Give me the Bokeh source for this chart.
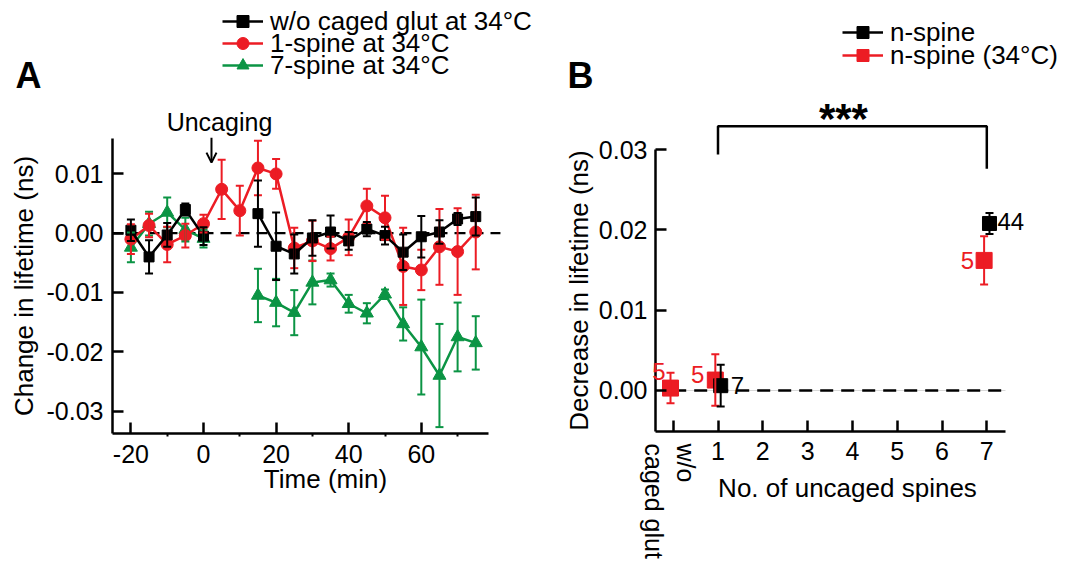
import math
import numpy as np
from bokeh.plotting import figure
from bokeh.layouts import row
from bokeh.core.properties import value
from bokeh.models import (ColumnDataSource, Whisker, TeeHead, Legend, LegendItem, Label, LabelSet,
                          FixedTicker, NumeralTickFormatter, Range1d, Arrow, OpenHead, LinearAxis)
from bokeh.embed import file_html
from bokeh.resources import INLINE

FONT = "Liberation Sans"
BLACK = "#000000"
RED = "#ec1c24"
GREEN = "#0b9444"
nan = float("nan")

# ---------------- Panel A data ----------------
time_min = [-20, -15, -10, -5, 0, 5, 10, 15, 20, 25, 30, 35, 40, 45, 50, 55, 60, 65, 70, 75]
ctrl_vals = [0.0005, -0.0040, -0.0003, 0.0040, -0.0005, nan, nan, 0.0033, -0.0022, -0.0035,
             -0.0008, 0.0002, -0.0013, 0.0007, -0.0004, -0.0032, -0.0006, 0.0002, 0.0024, 0.0028]
ctrl_err = [0.0018, 0.0028, 0.0020, 0.0010, 0.0015, nan, nan, 0.0056, 0.0057, 0.0033,
            0.0030, 0.0028, 0.0015, 0.0012, 0.0015, 0.0030, 0.0035, 0.0020, 0.0010, 0.0032]
one_vals = [-0.0010, 0.0013, -0.0019, -0.0004, 0.0016, 0.0074, 0.0038, 0.0110, 0.0100, -0.0025,
            -0.0013, -0.0026, -0.0007, 0.0046, 0.0026, -0.0056, -0.0062, -0.0023, -0.0031, 0.0002]
one_err = [0.0025, 0.0020, 0.0030, 0.0020, 0.0015, 0.0050, 0.0042, 0.0046, 0.0025, 0.0034,
           0.0034, 0.0020, 0.0030, 0.0029, 0.0037, 0.0065, 0.0034, 0.0064, 0.0073, 0.0063]
seven_vals = [-0.0024, 0.0016, 0.0035, 0.0006, -0.0009, nan, nan, -0.0105, -0.0117, -0.0134,
              -0.0083, -0.0079, -0.0119, -0.0135, -0.0103, -0.0153, -0.0192, -0.0240, -0.0175, -0.0185]
seven_err = [0.0025, 0.0020, 0.0025, 0.0020, 0.0015, nan, nan, 0.0045, 0.0040, 0.0038,
             0.0037, 0.0011, 0.0015, 0.0017, 0.0008, 0.0028, 0.0080, 0.0087, 0.0058, 0.0045]
labels_A = ["w/o caged glut at 34°C", "1-spine at 34°C", "7-spine at 34°C"]
ticks_Ax = [-20, 0, 20, 40, 60]
minor_Ax = [-10, 10, 30, 50, 70]
ticks_Ay = [-0.03, -0.02, -0.01, 0.0, 0.01]
uncaging_time = 2.2

# ---------------- Panel B data ----------------
black_x = [1, 7]
black_y = [0.0006, 0.0208]
black_err = [0.0026, 0.0013]
black_n = ["7", "44"]
red_x = [0, 1, 7]
red_y = [0.0003, 0.0013, 0.0162]
red_err = [0.0019, 0.0032, 0.0030]
red_n = ["5", "5", "5"]
labels_B = ["n-spine", "n-spine (34°C)"]
ticks_Bx = [0, 1, 2, 3, 4, 5, 6, 7]
ticks_By = [0.0, 0.01, 0.02, 0.03]
sig_pair = (1, 7)
sig_text = "***"

# ---------------- layout / style constants ----------------
BLACK_SHIFT = 0.06
RED_SHIFT = -0.06
A_XAXIS = (-25.07, 78.4)      # axis extent (time)
A_YAXIS = (-0.0338, 0.0159)   # axis extent (lifetime)
B_XAXIS = (-0.395, 7.417)
B_YAXIS = (-0.0051, 0.03)
H = 560
LEG_H = 31.5                  # height of one legend row (px)


def style_axis(ax, tick_standoff, label_standoff):
    ax.axis_line_width = 2.5
    ax.axis_line_color = BLACK
    ax.major_tick_line_width = 2.5
    ax.major_tick_line_color = BLACK
    ax.major_tick_in = 11
    ax.major_tick_out = 0
    ax.minor_tick_line_color = None
    ax.major_label_text_font = FONT
    ax.major_label_text_font_size = "25px"
    ax.major_label_text_color = BLACK
    ax.major_label_standoff = tick_standoff
    ax.axis_label_text_font = FONT
    ax.axis_label_text_font_size = "26px"
    ax.axis_label_text_font_style = "normal"
    ax.axis_label_text_color = BLACK
    ax.axis_label_standoff = label_standoff


def err_source(x, y, e):
    keep = [i for i in range(len(x)) if not math.isnan(y[i])]
    return ColumnDataSource(dict(
        x=[x[i] for i in keep], y=[y[i] for i in keep],
        lower=[y[i] - e[i] for i in keep], upper=[y[i] + e[i] for i in keep]))


def legend_row(p, label, renderers, x_px, center_px):
    leg = Legend(items=[LegendItem(label=label, renderers=renderers)],
                 location=(x_px, H - center_px - LEG_H / 2), orientation="vertical",
                 border_line_color=None, background_fill_alpha=0, padding=0, margin=0, spacing=0,
                 glyph_width=41, glyph_height=30, label_standoff=7, label_height=20,
                 label_text_font=FONT, label_text_font_size="26px", label_text_color=BLACK)
    p.add_layout(leg)


# ================= Panel A =================
pA = figure(width=562, height=H, x_range=Range1d(-55.923, 98.898), y_range=Range1d(-0.055194, 0.039241),
            output_backend="svg", toolbar_location=None, x_axis_location=None, y_axis_location=None,
            min_border=0)
pA.outline_line_color = None
pA.grid.visible = False
pA.background_fill_color = "white"

pA.line(x=[A_XAXIS[0], 81.8], y=[0, 0], line_color=BLACK, line_width=2.2, line_dash="11 7")

series_A = [
    (seven_vals, seven_err, GREEN, "triangle", 13),
    (one_vals, one_err, RED, "circle", 12),
    (ctrl_vals, ctrl_err, BLACK, "square", 10),
]
legend_rend = {}
for vals, errs, col, mk, sz in series_A:
    src = err_source(time_min, vals, errs)
    pA.add_layout(Whisker(source=src, base="x", upper="upper", lower="lower", line_color=col, line_width=2,
                          upper_head=TeeHead(size=8, line_color=col, line_width=2),
                          lower_head=TeeHead(size=8, line_color=col, line_width=2), level="glyph"))
    lr = pA.line(np.array(time_min, dtype=float), np.array(vals, dtype=float), line_color=col, line_width=2.5)
    sr = pA.scatter("x", "y", source=src, marker=mk, size=sz, fill_color=col, line_color=col)
    legend_rend[col] = [lr, sr]

legend_row(pA, labels_A[0], legend_rend[BLACK], 222, 21)
legend_row(pA, labels_A[1], legend_rend[RED], 222, 43)
legend_row(pA, labels_A[2], legend_rend[GREEN], 222, 65)

axA_x = LinearAxis(fixed_location=A_YAXIS[0],
                   ticker=FixedTicker(ticks=ticks_Ax, minor_ticks=minor_Ax),
                   formatter=NumeralTickFormatter(format="0"), bounds=A_XAXIS)
axA_y = LinearAxis(fixed_location=A_XAXIS[0], axis_label="Change in lifetime (ns)",
                   ticker=FixedTicker(ticks=ticks_Ay), formatter=NumeralTickFormatter(format="0.00"),
                   bounds=A_YAXIS)
pA.add_layout(axA_x, "below")
pA.add_layout(axA_y, "left")
style_axis(axA_x, 8, 0)
style_axis(axA_y, 9, 5)
axA_x.minor_tick_line_color = BLACK
axA_x.minor_tick_line_width = 2
axA_x.minor_tick_in = 0
axA_x.minor_tick_out = 3

pA.add_layout(Label(x=33.6, y=-0.0415, text="Time (min)", text_align="center", text_baseline="middle",
                    text_font=FONT, text_font_size="26px", text_color=BLACK))
pA.add_layout(Label(x=4.4, y=0.0187, text="Uncaging", text_align="center", text_baseline="middle",
                    text_font=FONT, text_font_size="25px", text_color=BLACK))
pA.add_layout(Arrow(x_start=uncaging_time, y_start=0.0161, x_end=uncaging_time, y_end=0.0119,
                    line_color=BLACK, line_width=2,
                    end=OpenHead(size=10, line_color=BLACK, line_width=2)))
pA.add_layout(Label(x=-48.2, y=0.0266, text="A", text_align="center", text_baseline="middle",
                    text_font=FONT, text_font_size="36px", text_font_style="bold", text_color=BLACK))

# ================= Panel B =================
pB = figure(width=518, height=H, x_range=Range1d(-2.4710, 9.0915), y_range=Range1d(-0.021171, 0.048568),
            output_backend="svg", toolbar_location=None, x_axis_location=None, y_axis_location=None,
            min_border=0)
pB.outline_line_color = None
pB.grid.visible = False
pB.background_fill_color = "white"

pB.line(x=[0, B_XAXIS[1]], y=[0, 0], line_color="#d8d8d8", line_width=1)
pB.line(x=[0, B_XAXIS[1]], y=[0, 0], line_color=BLACK, line_width=2.5, line_dash="13 8")

src_red = err_source([x + RED_SHIFT for x in red_x], red_y, red_err)
src_red.data["n"] = red_n
src_red.data["dx"] = [-5, -11, -10]
src_red.data["dy"] = [17, 6, 0]
src_black = err_source([x + BLACK_SHIFT for x in black_x], black_y, black_err)
src_black.data["n"] = black_n
src_black.data["dx"] = [10, 8]
src_black.data["dy"] = [0, 2]

for src, col in [(src_red, RED), (src_black, BLACK)]:
    pB.add_layout(Whisker(source=src, base="x", upper="upper", lower="lower", line_color=col, line_width=2,
                          upper_head=TeeHead(size=8, line_color=col, line_width=2),
                          lower_head=TeeHead(size=8, line_color=col, line_width=2), level="glyph"))

# legend-only line samples (a single NaN point draws nothing in the plot)
lr_red = pB.line(x=[nan], y=[nan], line_color=RED, line_width=2.5)
sr_red = pB.scatter("x", "y", source=src_red, marker="square", size=16, fill_color=RED, line_color=RED)
lr_black = pB.line(x=[nan], y=[nan], line_color=BLACK, line_width=2.5)
sr_black = pB.scatter("x", "y", source=src_black, marker="square", size=14, fill_color=BLACK, line_color=BLACK)

pB.add_layout(LabelSet(x="x", y="y", text="n", source=src_red, x_offset="dx", y_offset="dy",
                       text_align="right", text_baseline="middle", text_font=value(FONT),
                       text_font_size="24px", text_color=RED))
pB.add_layout(LabelSet(x="x", y="y", text="n", source=src_black, x_offset="dx", y_offset="dy",
                       text_align="left", text_baseline="middle", text_font=value(FONT),
                       text_font_size="24px", text_color=BLACK))

# significance bracket
pB.line(x=[sig_pair[0], sig_pair[0], sig_pair[1], sig_pair[1]],
        y=[0.0294, 0.0329, 0.0329, 0.0276], line_color=BLACK, line_width=2.5)
pB.add_layout(Label(x=3.8, y=0.0339, text=sig_text, text_align="center", text_baseline="alphabetic",
                    text_font=FONT, text_font_size="42px", text_font_style="bold", text_color=BLACK))

legend_row(pB, labels_B[0], [lr_black, sr_black], 280, 32)
legend_row(pB, labels_B[1], [lr_red, sr_red], 280, 55)

axB_x = LinearAxis(fixed_location=B_YAXIS[0], ticker=FixedTicker(ticks=ticks_Bx), bounds=B_XAXIS)
axB_x.major_label_overrides = {0: ""}
axB_y = LinearAxis(fixed_location=B_XAXIS[0], axis_label="Decrease in lifetime (ns)",
                   ticker=FixedTicker(ticks=ticks_By), formatter=NumeralTickFormatter(format="0.00"),
                   bounds=B_YAXIS)
pB.add_layout(axB_x, "below")
pB.add_layout(axB_y, "left")
style_axis(axB_x, 11, 7)
style_axis(axB_y, 8, 2)

pB.add_layout(Label(x=3.89, y=-0.01214, text="No. of uncaged spines", text_align="center",
                    text_baseline="middle", text_font=FONT, text_font_size="26px", text_color=BLACK))
pB.add_layout(Label(x=0, y=-0.0066, text="w/o", angle=-math.pi / 2, text_align="left",
                    text_baseline="middle", x_offset=13, text_font=FONT, text_font_size="25px",
                    text_color=BLACK))
pB.add_layout(Label(x=0, y=-0.0066, text="caged glut", angle=-math.pi / 2, text_align="left",
                    text_baseline="middle", x_offset=-19, text_font=FONT, text_font_size="25px",
                    text_color=BLACK))
pB.add_layout(Label(x=-2.07, y=0.0392, text="B", text_align="center", text_baseline="middle",
                    text_font=FONT, text_font_size="36px", text_font_style="bold", text_color=BLACK))

layout = row(pA, pB)
open("out.html", "w").write(file_html(layout, INLINE))
